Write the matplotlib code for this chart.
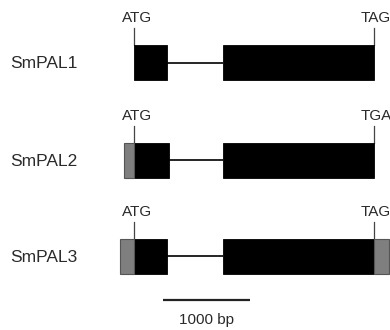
import matplotlib.pyplot as plt
from matplotlib.patches import Rectangle

plt.rcParams['font.family'] = ['Liberation Sans', 'DejaVu Sans']

# gene structures in bp, ATG = 0
genes = ['SmPAL1', 'SmPAL2', 'SmPAL3']
exons = [
    [(0, 379), (1023, 2759)],
    [(0, 402), (1023, 2759)],
    [(0, 379), (1023, 2759)],
]
utr5 = [None, (-115, 0), (-161, 0)]
utr3 = [None, None, (2759, 2931)]
start_codon = ['ATG', 'ATG', 'ATG']
stop_codon = ['TAG', 'TGA', 'TAG']
scale_bp = 1000

# layout (pixel space, y grows downward)
W, H = 390, 330
PX_PER_BP = 0.087
X0 = 134
row_y = [62.5, 160, 256]
box_h = 35


def px2bp(px):
    return (px - X0) / PX_PER_BP


fig = plt.figure(figsize=(W / 100, H / 100), dpi=100)
ax = fig.add_axes([0, 0, 1, 1])
ax.set_xlim(px2bp(0), px2bp(W))
ax.set_ylim(H, 0)
ax.axis('off')

txt = '#2a2a2a'
for i, name in enumerate(genes):
    yc = row_y[i]
    top = yc - box_h / 2
    # intron line
    (s1, e1), (s2, e2) = exons[i]
    ax.plot([e1, s2], [yc, yc], color='black', lw=1.2, solid_capstyle='butt', zorder=1)
    for s, e in exons[i]:
        ax.add_patch(Rectangle((s, top), e - s, box_h, facecolor='black',
                               edgecolor='black', lw=0.6, zorder=2))
    for u in (utr5[i], utr3[i]):
        if u is not None:
            ax.add_patch(Rectangle((u[0], top), u[1] - u[0], box_h, facecolor='#7f7f7f',
                                   edgecolor='#555555', lw=0.8, zorder=2))
    # codon ticks
    for pos, lab, dx in ((s1, start_codon[i], 30), (e2, stop_codon[i], 20)):
        ax.plot([pos, pos], [top - 17, top], color='#444444', lw=0.9, zorder=1)
        ax.text(pos + dx, top - 23, lab, ha='center', va='baseline', fontsize=11, color=txt)
    ax.text(px2bp(10), yc + 1, name, ha='left', va='center', fontsize=12.5, color=txt)

# scale bar
sb_start = px2bp(163)
ax.plot([sb_start, sb_start + scale_bp], [300, 300], color='#222222', lw=1.6, solid_capstyle='butt')
ax.text(sb_start + scale_bp / 2, 324, f'{scale_bp} bp', ha='center', va='baseline',
        fontsize=11, color=txt)

fig.savefig('out.png', dpi=100)
